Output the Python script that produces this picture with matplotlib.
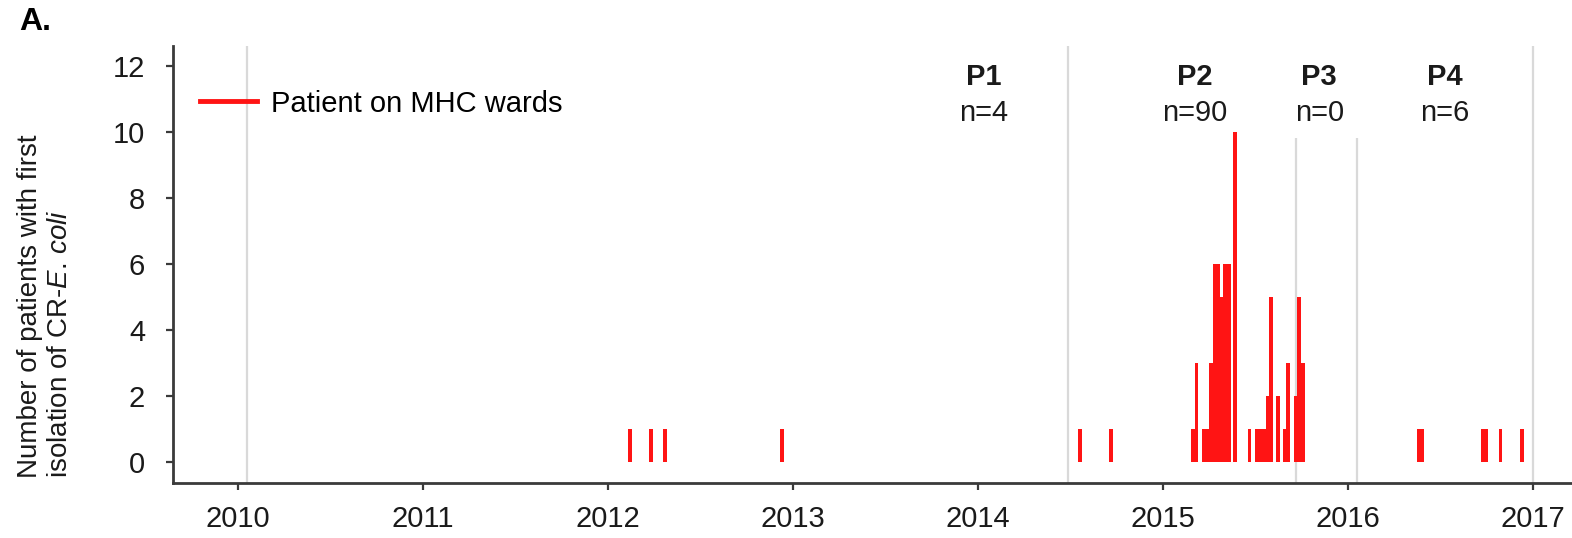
import matplotlib
matplotlib.use('Agg')
import matplotlib.pyplot as plt
from matplotlib.lines import Line2D

plt.rcParams['font.family'] = ['Liberation Sans', 'DejaVu Sans']
plt.rcParams['mathtext.fontset'] = 'custom'
plt.rcParams['mathtext.rm'] = 'Liberation Sans'
plt.rcParams['mathtext.it'] = 'Liberation Sans:italic'

# date of first isolation (decimal year) and number of patients
bar_dates = [2012.118, 2012.232, 2012.309, 2012.940,
             2014.552, 2014.722,
             2015.164, 2015.183, 2015.222, 2015.241, 2015.261, 2015.281,
             2015.298, 2015.317, 2015.338, 2015.358, 2015.391, 2015.470,
             2015.509, 2015.529, 2015.549, 2015.567, 2015.586, 2015.624,
             2015.662, 2015.679, 2015.718, 2015.737, 2015.759,
             2016.387, 2016.405, 2016.731, 2016.750, 2016.827, 2016.943]
bar_counts = [1, 1, 1, 1,
              1, 1,
              1, 3, 1, 1, 3, 6,
              6, 5, 6, 6, 10, 1,
              1, 1, 1, 2, 5, 2,
              1, 3, 2, 5, 3,
              1, 1, 1, 1, 1, 1]

# period boundaries (vertical grey lines)
boundaries = [2010.05, 2014.49, 2015.72, 2016.05, 2017.0]
boundary_tops = [12.7, 12.7, 9.82, 9.82, 12.7]

periods = ['P1', 'P2', 'P3', 'P4']
period_n = [4, 90, 0, 6]
period_x = [2014.03, 2015.175, 2015.846, 2016.527]

years = list(range(2010, 2018))

fs = 21
fig = plt.figure(figsize=(15.72, 5.38), dpi=100)
ax = fig.add_axes([0.110, 0.102, 0.890, 0.8125])

for b, top in zip(boundaries, boundary_tops):
    ax.vlines(b, -1, top, color='#d9d9d9', lw=1.6, zorder=1)

ax.bar(bar_dates, bar_counts, width=0.02, color='#ff1414', linewidth=0, zorder=2)

for name, n, x in zip(periods, period_n, period_x):
    ax.text(x, 11.68, name, ha='center', va='center', fontsize=fs, fontweight='bold', color='#1a1a1a')
    ax.text(x, 10.57, f'n={n}', ha='center', va='center', fontsize=fs, color='#1a1a1a')

ax.set_xlim(2009.6485, 2017.213)
ax.set_ylim(-0.636, 12.606)
ax.set_xticks(years)
ax.set_xticklabels([str(y) for y in years])
ax.set_yticks(range(0, 13, 2))

for s in ['top', 'right']:
    ax.spines[s].set_visible(False)
for s in ['left', 'bottom']:
    ax.spines[s].set_color('#3a3a3a')
    ax.spines[s].set_linewidth(2)
ax.tick_params(axis='both', direction='out', length=5, width=1.6, color='#3a3a3a',
               labelsize=fs, labelcolor='#1a1a1a')
ax.tick_params(axis='x', pad=11)
ax.tick_params(axis='y', pad=15)

handle = Line2D([0], [0], color='#ff1414', lw=3.5)
ax.legend([handle], ['Patient on MHC wards'], loc='center left',
          bbox_to_anchor=(0.0193, 0.868), frameon=False, fontsize=fs,
          handlelength=1.95, handletextpad=0.5, borderpad=0, borderaxespad=0)

fig.text(0.0286, 0.1115, 'Number of patients with first\nisolation of CR-$\\mathit{E.\\,coli}$',
         rotation=90, ha='center', va='bottom', multialignment='left', fontsize=20, color='#1a1a1a')
fig.text(35 / 1572, 1 - 22 / 538, 'A.', fontsize=23, fontweight='bold', ha='center', va='center')

fig.savefig('out.png', dpi=100)
